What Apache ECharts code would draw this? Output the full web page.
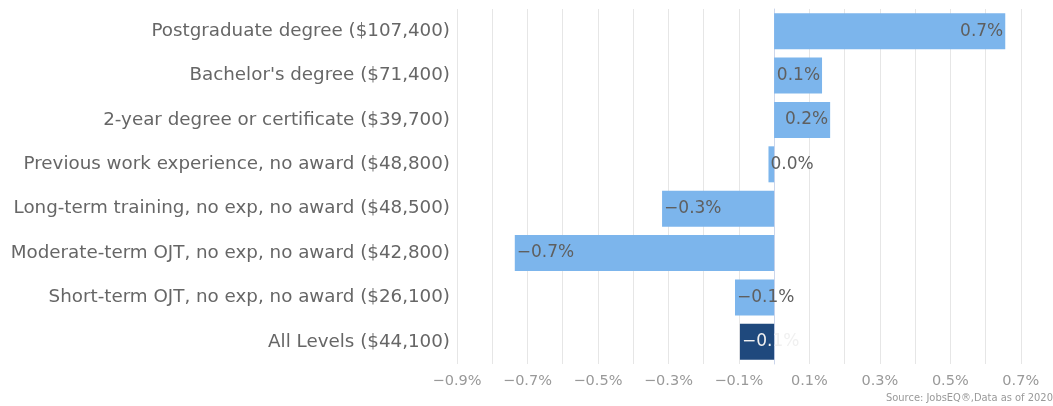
<!DOCTYPE html>
<html>
<head>
<meta charset="utf-8">
<script src="https://cdn.jsdelivr.net/npm/echarts@6/dist/echarts.min.js"></script>
<style>
  html, body { margin: 0; padding: 0; background: #fff; overflow: hidden; }
  #chart { width: 1053px; height: 406px; }
</style>
</head>
<body>
<div id="chart"></div>
<script>
const categories = [
  "Postgraduate degree ($107,400)",
  "Bachelor's degree ($71,400)",
  "2-year degree or certificate ($39,700)",
  "Previous work experience, no award ($48,800)",
  "Long-term training, no exp, no award ($48,500)",
  "Moderate-term OJT, no exp, no award ($42,800)",
  "Short-term OJT, no exp, no award ($26,100)",
  "All Levels ($44,100)",
];
const values = [0.656, 0.136, 0.159, -0.016, -0.318, -0.736, -0.111, -0.097];
const highlightIndex = 7;
const sourceText = "Source: JobsEQ®,Data as of 2020Q";

function pct(v) {
  const r = Math.round(v * 10) / 10;
  if (r === 0) return "0.0%";
  return (r < 0 ? "\u2212" : "") + Math.abs(r).toFixed(1) + "%";
}

const seriesData = values.map((v, i) => {
  const isTotal = i === highlightIndex;
  return {
    value: v,
    itemStyle: { color: isTotal ? "#1f497d" : "#7cb5ec" },
    label: {
      position: v < 0 ? "insideLeft" : "insideRight",
      distance: 2,
      color: isTotal ? "#f0f0f0" : "#5f5f5f",
    },
  };
});

const chart = echarts.init(document.getElementById("chart"), null, { renderer: "canvas" });
chart.setOption({
  animation: false,
  grid: {
    left: 457, width: 599, top: 9, bottom: 42,
    containLabel: false, outerBoundsMode: "none",
  },
  xAxis: {
    type: "value",
    min: -0.9,
    max: 0.8,
    interval: 0.1,
    axisLine: { show: false },
    axisTick: { show: false },
    splitLine: { lineStyle: { color: "#e6e6e6", width: 1 } },
    axisLabel: {
      fontFamily: "DejaVu Sans",
      fontSize: 14.5,
      color: "#999999",
      margin: 10,
      formatter: (v) => {
        const k = Math.round(v * 10);
        if (k % 2 === 0) return "";
        return pct(v);
      },
    },
  },
  yAxis: {
    type: "category",
    inverse: true,
    data: categories,
    axisLine: { lineStyle: { color: "#ccd6eb" } },
    axisTick: { length: 6, lineStyle: { color: "#ccd6eb" } },
    axisLabel: {
      fontFamily: "DejaVu Sans",
      fontSize: 18.3,
      color: "#666666",
      margin: 7,
    },
  },
  series: [
    {
      type: "bar",
      barWidth: 36,
      data: seriesData,
      label: {
        show: true,
        fontFamily: "DejaVu Sans",
        fontSize: 17,
        formatter: (p) => pct(p.value),
      },
    },
  ],
  graphic: [
    {
      type: "text",
      left: 886,
      top: 393,
      style: {
        text: sourceText,
        font: "11px 'DejaVu Sans Condensed', 'Liberation Sans', sans-serif",
        fill: "#999999",
      },
    },
  ],
});
</script>
</body>
</html>
